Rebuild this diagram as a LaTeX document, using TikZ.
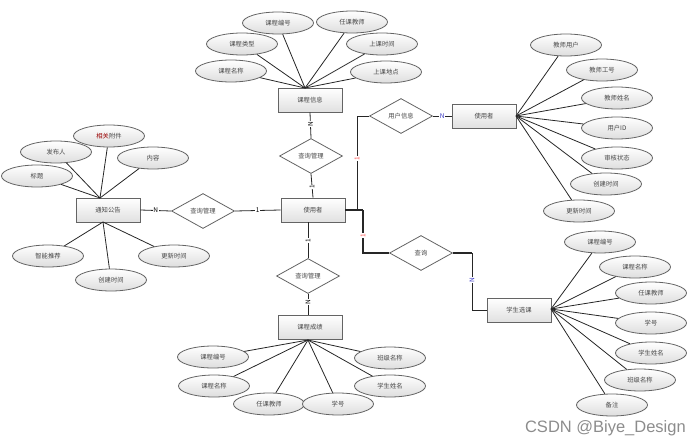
\documentclass[tikz,border=0pt]{standalone}
\usepackage{fontspec}
\setmainfont{Noto Sans CJK SC}
\newfontfamily\wmfont{Liberation Sans}
\usetikzlibrary{shapes.geometric}
\definecolor{txt}{RGB}{70,70,70}
\definecolor{edge}{RGB}{100,100,100}
\tikzset{
  attr/.style={ellipse,draw=edge,line width=0.8pt,top color=white,bottom color=black!13,
    minimum width=71pt,minimum height=22pt,inner sep=0pt,font=\fontsize{6.3}{7}\selectfont,text=txt},
  ent/.style={rectangle,draw=edge,line width=0.9pt,top color=white,bottom color=black!12,
    minimum width=64pt,minimum height=24pt,inner sep=0pt,font=\fontsize{6.3}{7}\selectfont,text=txt},
  rel/.style={diamond,draw=edge,line width=0.8pt,fill=white,aspect=1.8,
    minimum width=63pt,minimum height=35pt,inner sep=0pt,font=\fontsize{6.3}{7}\selectfont,text=txt},
  ln/.style={draw=black!85,line width=0.8pt},
  thk/.style={draw=black!85,line width=1.3pt},
  lab/.style={font=\fontsize{6.5}{7}\selectfont,inner sep=0.5pt,fill=white},
}
\begin{document}
\begin{tikzpicture}[x=1pt,y=-1pt]
\useasboundingbox (0,0) rectangle (689,447);
% entities
\node[ent] (kcxx) at (310,100) {课程信息};
\node[ent] (tzgg) at (108,210) {通知公告};
\node[ent] (syz) at (313,210) {使用者};
\node[ent] (syz2) at (484,116) {使用者};
\node[ent] (kccj) at (310,327) {课程成绩};
\node[ent] (xsxk) at (519,310) {学生选课};
% relations
\node[rel] (r1) at (203,211) {查询管理};
\node[rel] (r2) at (311,156) {查询管理};
\node[rel] (r3) at (308,276) {查询管理};
\node[rel] (r4) at (401,116) {用户信息};
\node[rel] (r5) at (421,253) {查询};
% convergence points
\coordinate (ck) at (305,88);
\coordinate (ct1) at (100,198);
\coordinate (ct2) at (103,222);
\coordinate (cc) at (308,340);
\coordinate (cs) at (516,116);
\coordinate (cx) at (551,309);
% kcxx attributes
\node[attr] (a1) at (278,23) {课程编号};
\node[attr] (a2) at (352,22) {任课教师};
\node[attr] (a3) at (242,44) {课程类型};
\node[attr] (a4) at (382,44) {上课时间};
\node[attr] (a5) at (231,71) {课程名称};
\node[attr] (a6) at (386,72) {上课地点};
\foreach \n in {a1,a2,a3,a4,a5,a6} \draw[ln] (\n) -- (ck);
% tzgg attributes
\node[attr] (b1) at (109,136) {\textcolor{red!60!black}{相关}附件};
\node[attr] (b2) at (56,152) {发布人};
\node[attr] (b3) at (153,158) {内容};
\node[attr] (b4) at (37,176) {标题};
\node[attr] (b5) at (48,256) {智能推荐};
\node[attr] (b6) at (111,280) {创建时间};
\node[attr] (b7) at (174,256) {更新时间};
\foreach \n in {b1,b2,b3,b4} \draw[ln] (\n) -- (ct1);
\foreach \n in {b5,b6,b7} \draw[ln] (\n) -- (ct2);
% kccj attributes
\node[attr] (c1) at (213,357) {课程编号};
\node[attr] (c2) at (214,386) {课程名称};
\node[attr] (c3) at (269,404) {任课教师};
\node[attr] (c4) at (338,404) {学号};
\node[attr] (c5) at (390,358) {班级名称};
\node[attr] (c6) at (390,386) {学生姓名};
\foreach \n in {c1,c2,c3,c4,c5,c6} \draw[ln] (\n) -- (cc);
% syz2 attributes
\node[attr] (d1) at (566,45) {教师用户};
\node[attr] (d2) at (602,70) {教师工号};
\node[attr] (d3) at (617,98) {教师姓名};
\node[attr] (d4) at (617,128) {用户ID};
\node[attr] (d5) at (617,158) {审核状态};
\node[attr] (d6) at (606,184) {创建时间};
\node[attr] (d7) at (579,211) {更新时间};
\foreach \n in {d1,d2,d3,d4,d5,d6,d7} \draw[ln] (\n) -- (cs);
% xsxk attributes
\node[attr] (e1) at (600,242) {课程编号};
\node[attr] (e2) at (635,267) {课程名称};
\node[attr] (e3) at (651,293) {任课教师};
\node[attr] (e4) at (651,323) {学号};
\node[attr] (e5) at (651,353) {学生姓名};
\node[attr] (e6) at (640,380) {班级名称};
\node[attr] (e7) at (612,405) {备注};
\foreach \n in {e1,e2,e3,e4,e5,e6,e7} \draw[ln] (\n) -- (cx);
% relation connectors
\draw[ln] (tzgg.east) -- node[lab,pos=0.5]{N} (r1.west);
\draw[ln] (r1.east) -- node[lab,pos=0.5]{1} (syz.west);
\draw[ln] (r2.north) -- node[lab,rotate=90,pos=0.55]{N} (kcxx.south);
\draw[ln] (r2.south) -- node[lab,rotate=90,pos=0.55]{1} (syz.north);
\draw[ln] (syz.south -| r3.north) -- node[lab,rotate=90,pos=0.5]{1} (r3.north);
\draw[ln] (r3.south) -- node[lab,rotate=90,pos=0.4]{N} (kccj.north -| r3.south);
\coordinate (j1) at (357,210);
\coordinate (j2) at (363,210);
\draw[thk] (syz.east) -- (j1);
\draw[ln] (j1) -- node[lab,rotate=90,text=red!70,pos=0.55]{1} (j1 |- r4.west) -- (r4.west);
\draw[ln] (r4.east) -- node[lab,text=blue!55!gray]{N} (syz2.west);
\draw[thk] (j1) -- (j2);
\draw[thk] (j2) -- node[lab,rotate=90,text=red!70,pos=0.6]{1} (j2 |- r5.west) -- (r5.west);
\coordinate (j3) at (472,253);
\draw[thk] (r5.east) -- (j3);
\draw[ln] (j3) -- node[lab,rotate=90,text=blue!55!gray,pos=0.47]{N} (j3 |- xsxk.west) -- (xsxk.west);
% watermark
\node[font=\wmfont\fontsize{16.5}{18}\selectfont,text=black!45,anchor=east,inner sep=0pt] (wm) at (686,428) {CSDN @Biye\_Design};
\end{tikzpicture}
\end{document}
